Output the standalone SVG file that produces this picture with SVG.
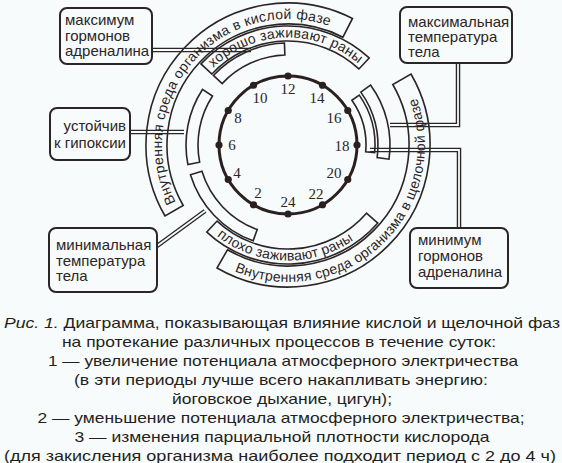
<svg xmlns="http://www.w3.org/2000/svg" width="562" height="463" viewBox="0 0 562 463">
<style>
.band{fill:none;stroke:#2b2526;stroke-width:1.6}
.box{fill:#f8fbfb;stroke:#2b2526;stroke-width:2}
.dlo{fill:none;stroke:#2b2526;stroke-width:4.5}
.dli{fill:none;stroke:#f8fbfb;stroke-width:1.8}
.lbl{font-family:"Liberation Sans",Arial,sans-serif;font-size:15px;fill:#2b2526}
.arc{font-family:"Liberation Sans",Arial,sans-serif;font-size:14px;fill:#2b2526}
.num{font-family:"Liberation Serif","Times New Roman",serif;font-size:15px;fill:#2b2526;text-anchor:middle}
.cap{font-family:"Liberation Sans",Arial,sans-serif;font-size:15px;fill:#231f20;text-anchor:middle}
.dot{fill:#2b2020}
</style>
<defs>
<path id="pAcid" d="M175.73,202.2 A126,126 0 0 1 329.02,25.87"/>
<path id="pAlk" d="M234.47,271.11 A137,137 0 0 0 415.9,95.9"/>
<path id="pGood" d="M213.32,67.67 A107.5,107.5 0 0 1 358.53,63.87"/>
<path id="pBad" d="M216.89,236.01 A115.5,115.5 0 0 0 353.42,240.18"/>
</defs>
<rect x="0" y="0" width="562" height="463" fill="#f8fbfb"/>
<g id="connectors">
<path class="dlo" d="M152,50 H251"/><path class="dli" d="M152,50 H251"/>
<path class="dlo" d="M130,132 H184"/><path class="dli" d="M130,132 H184"/>
<path class="dlo" d="M157,246 L205,211"/><path class="dli" d="M157,246 L205,211"/>
<path class="dlo" d="M458,63 V125 H390"/><path class="dli" d="M458,63 V125 H390"/>
<path class="dlo" d="M459,228 V150 H370"/><path class="dli" d="M459,228 V150 H370"/>
</g>
<g id="acid-phase">
<path class="band" d="M165.02,216 A142,142 0 0 1 352.47,18.48 L342.93,37.19 A121,121 0 0 0 183.21,205.5 Z"/>
<text class="arc"><textPath href="#pAcid" textLength="299" lengthAdjust="spacing">Внутренняя среда организма в кислой фазе</textPath></text>
</g>
<g id="alkaline-phase">
<path class="band" d="M410.98,74 A142,142 0 0 1 217,267.98 L227.5,249.79 A121,121 0 0 0 392.79,84.5 Z"/>
<text class="arc"><textPath href="#pAlk" textLength="318" lengthAdjust="spacing">Внутренняя среда организма в щелочной фазе</textPath></text>
</g>
<g id="good-healing">
<path class="band" d="M200.96,63.84 A119,119 0 0 1 369.16,57.96 L358.93,68.93 A104,104 0 0 0 211.93,74.07 Z"/>
<text class="arc"><textPath href="#pGood" textLength="159" lengthAdjust="spacing">хорошо заживают раны</textPath></text>
</g>
<g id="bad-healing">
<path class="band" d="M377.81,223.08 A119,119 0 0 1 206.84,232.04 L217.07,221.07 A104,104 0 0 0 366.49,213.23 Z"/>
<text class="arc"><textPath href="#pBad" textLength="146" lengthAdjust="spacing">плохо заживают раны</textPath></text>
</g>
<g id="band-top">
<path class="band" d="M213.40,75.44 A102,102 0 0 1 284.44,43.06 L284.86,55.05 A90,90 0 0 0 222.17,83.62 Z"/>
</g>
<g id="band-left">
<path class="band" d="M187.88,164.46 A102,102 0 0 1 202.45,89.45 L212.52,95.99 A90,90 0 0 0 199.66,162.17 Z"/>
</g>
<g id="band-lower-left">
<path class="band" d="M253.12,240.85 A102,102 0 0 1 190.46,174.82 L201.93,171.32 A90,90 0 0 0 257.22,229.57 Z"/>
</g>
<g id="band-right-outer">
<path class="band" d="M370.52,85.04 A102,102 0 0 1 389.01,159.20 L377.13,157.53 A90,90 0 0 0 360.81,92.10 Z"/>
</g>
<g id="band-right-inner">
<path class="band" d="M359.27,95.10 A87,87 0 0 1 374.67,152.59 L365.70,151.80 A78,78 0 0 0 351.90,100.26 Z"/>
</g>
<g id="clock">
<circle cx="288" cy="145" r="69" fill="none" stroke="#2b2020" stroke-width="3"/>
<circle class="dot" cx="253.5" cy="204.76" r="3.6"/>
<circle class="dot" cx="228.24" cy="179.5" r="3.6"/>
<circle class="dot" cx="219" cy="145" r="3.6"/>
<circle class="dot" cx="228.24" cy="110.5" r="3.6"/>
<circle class="dot" cx="253.5" cy="85.24" r="3.6"/>
<circle class="dot" cx="288" cy="76" r="3.6"/>
<circle class="dot" cx="322.5" cy="85.24" r="3.6"/>
<circle class="dot" cx="347.76" cy="110.5" r="3.6"/>
<circle class="dot" cx="357" cy="145" r="3.6"/>
<circle class="dot" cx="347.76" cy="179.5" r="3.6"/>
<circle class="dot" cx="322.5" cy="204.76" r="3.6"/>
<circle class="dot" cx="288" cy="214" r="3.6"/>
<text class="num" x="288" y="94">12</text>
<text class="num" x="317" y="103">14</text>
<text class="num" x="334" y="123">16</text>
<text class="num" x="342" y="151">18</text>
<text class="num" x="334" y="178">20</text>
<text class="num" x="316" y="199">22</text>
<text class="num" x="288" y="207">24</text>
<text class="num" x="258" y="198">2</text>
<text class="num" x="237" y="178">4</text>
<text class="num" x="232" y="150">6</text>
<text class="num" x="238" y="123">8</text>
<text class="num" x="260" y="103">10</text>
</g>
<g id="box-max-adrenaline">
<rect class="box" x="60" y="8" width="92" height="56" rx="7"/>
<text class="lbl" x="65" y="25">максимум</text>
<text class="lbl" x="65" y="41">гормонов</text>
<text class="lbl" x="65" y="56">адреналина</text>
</g>
<g id="box-hypoxia">
<rect class="box" x="50" y="108" width="80" height="52" rx="7"/>
<text class="lbl" x="126" y="131" text-anchor="end">устойчив</text>
<text class="lbl" x="126" y="148" text-anchor="end">к гипоксии</text>
</g>
<g id="box-min-temp">
<rect class="box" x="49" y="228" width="108" height="64" rx="7"/>
<text class="lbl" x="56" y="250">минимальная</text>
<text class="lbl" x="56" y="266">температура</text>
<text class="lbl" x="56" y="281">тела</text>
</g>
<g id="box-max-temp">
<rect class="box" x="400" y="7" width="112" height="56" rx="7"/>
<text class="lbl" x="408" y="27">максимальная</text>
<text class="lbl" x="408" y="42">температура</text>
<text class="lbl" x="408" y="57">тела</text>
</g>
<g id="box-min-adrenaline">
<rect class="box" x="410" y="228" width="98" height="60" rx="7"/>
<text class="lbl" x="418" y="245">минимум</text>
<text class="lbl" x="418" y="261">гормонов</text>
<text class="lbl" x="418" y="277">адреналина</text>
</g>
<g id="caption">
<text class="cap" x="282" y="328" textLength="556" lengthAdjust="spacingAndGlyphs"><tspan font-style="italic">Рис. 1.</tspan> Диаграмма, показывающая влияние кислой и щелочной фаз</text>
<text class="cap" x="279" y="347" textLength="434" lengthAdjust="spacingAndGlyphs">на протекание различных процессов в течение суток:</text>
<text class="cap" x="283" y="366" textLength="470" lengthAdjust="spacingAndGlyphs">1 — увеличение потенциала атмосферного электричества</text>
<text class="cap" x="281" y="385" textLength="414" lengthAdjust="spacingAndGlyphs">(в эти периоды лучше всего накапливать энергию:</text>
<text class="cap" x="282" y="404" textLength="220" lengthAdjust="spacingAndGlyphs">йоговское дыхание, цигун);</text>
<text class="cap" x="281" y="423" textLength="487" lengthAdjust="spacingAndGlyphs">2 — уменьшение потенциала атмосферного электричества;</text>
<text class="cap" x="282" y="442" textLength="415" lengthAdjust="spacingAndGlyphs">3 — изменения парциальной плотности кислорода</text>
<text class="cap" x="280" y="461" textLength="552" lengthAdjust="spacingAndGlyphs">(для закисления организма наиболее подходит период с 2 до 4 ч)</text>
</g>
</svg>
